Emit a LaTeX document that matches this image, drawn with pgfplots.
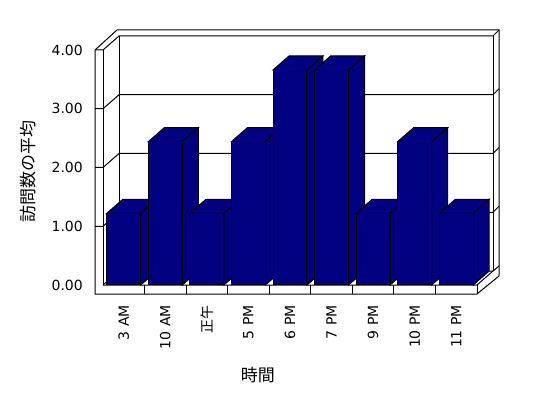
\documentclass[border=0pt]{standalone}
\usepackage{pgfplots}
\pgfplotsset{compat=1.18}
\usepackage{pgfplotstable}
\usepackage{fontspec}
\setmainfont{DejaVu Sans}
\newfontfamily\jp{Noto Sans CJK JP}
\definecolor{navybar}{RGB}{0,0,128}

\pgfplotstableread{
idx val
0 1.22
1 2.44
2 1.22
3 2.44
4 3.66
5 3.66
6 1.22
7 2.44
8 1.22
}\datatable

\begin{document}
\begin{tikzpicture}
% ---------- frame (pixel coordinates) ----------
\begin{axis}[at={(0pt,0pt)}, anchor=south west, width=548pt, height=398pt,
  scale only axis, xmin=0, xmax=548, ymin=0, ymax=398, y dir=reverse,
  hide axis, clip=false, every axis plot/.append style={line width=1pt}]
\addplot[draw=none, fill=white] coordinates {(0,0)(548,0)(548,398)(0,398)} --cycle;
\addplot[fill=white, draw=black] coordinates {(95,294)(95,50)(117,30)(499,30)(499,276)(477,294)} --cycle;
% left wall front inner edge
\addplot[black] coordinates {(103,50)(103,285)};
% back wall edges
\addplot[black] coordinates {(119,36)(119,271)};
\addplot[black] coordinates {(493,36)(493,271)};
\addplot[black] coordinates {(493,36)(499,30)};
% grid levels (front y, back y)
\addplot[black] coordinates {(95,50)(103,50)(119,36)(493,36)};
\addplot[black] coordinates {(95,108.75)(103,108.75)(119,94.75)(493,94.75)(499,88.75)};
\addplot[black] coordinates {(95,167.5)(103,167.5)(119,153.5)(493,153.5)(499,147.5)};
\addplot[black] coordinates {(95,226.25)(103,226.25)(119,212.25)(493,212.25)(499,206.25)};
% floor
\addplot[black] coordinates {(103,285)(119,271)(493,271)};
\addplot[black] coordinates {(103,285)(477,285)(493,271)};
\addplot[black] coordinates {(477,285)(477,294)};
\addplot[black] coordinates {(493,271)(499,266)};
% category separators on floor front
\addplot[black] coordinates {(144.6,285)(144.6,294)};
\addplot[black] coordinates {(186.1,285)(186.1,294)};
\addplot[black] coordinates {(227.7,285)(227.7,294)};
\addplot[black] coordinates {(269.2,285)(269.2,294)};
\addplot[black] coordinates {(310.8,285)(310.8,294)};
\addplot[black] coordinates {(352.3,285)(352.3,294)};
\addplot[black] coordinates {(393.9,285)(393.9,294)};
\addplot[black] coordinates {(435.4,285)(435.4,294)};
\end{axis}

% ---------- data ----------
\begin{axis}[at={(103pt,113pt)}, anchor=south west, width=374pt, height=235pt,
  scale only axis, xmin=-0.5, xmax=8.5, ymin=0, ymax=4, clip=false,
  axis line style={draw=none}, major tick length=0pt,
  xtick={0,...,8},
  xticklabels={3 AM,10 AM,{\jp 正午},5 PM,6 PM,7 PM,9 PM,10 PM,11 PM},
  ytick={0,1,2,3,4},
  yticklabels={0.00,1.00,2.00,3.00,4.00},
  ticklabel style={font=\fontsize{14}{16}\selectfont, inner sep=0pt},
  xticklabel style={rotate=90, anchor=east},
  yticklabel style={anchor=east},
  xticklabel shift=20pt, yticklabel shift=20pt,
  xlabel={時間}, ylabel={訪問数の平均},
  label style={font=\jp\fontsize{17}{20}\selectfont},
  xlabel style={at={(axis description cs:0.414,-0.383)}, anchor=center},
  ylabel style={at={(axis description cs:-0.2005,0.481)}, anchor=center, rotate=0},
]
\pgfplotsforeachungrouped \ii in {0,...,8}{%
  \pgfplotstablegetelem{\ii}{val}\of\datatable
  \let\myv\pgfplotsretval
  \pgfmathsetmacro\xl{\ii-0.409}%
  \pgfmathsetmacro\xr{\ii+0.409}%
  \pgfmathsetmacro\xlb{\ii-0.409+0.385}%
  \pgfmathsetmacro\xrb{\ii+0.409+0.385}%
  \pgfmathsetmacro\vb{\myv+0.238}%
  \edef\cmd{%
    \noexpand\addplot[fill=navybar, draw=black, line width=1pt] coordinates {(\xl,\myv) (\xr,\myv) (\xrb,\vb) (\xlb,\vb)} --cycle;
    \noexpand\addplot[fill=navybar, draw=black, line width=1pt] coordinates {(\xr,0) (\xrb,0.238) (\xrb,\vb) (\xr,\myv)} --cycle;
  }\cmd
}
\addplot[ybar, bar width=0.818, bar shift=0pt, fill=navybar, draw=black, line width=1pt] table[x=idx, y=val] {\datatable};
\end{axis}
\end{tikzpicture}
\end{document}
